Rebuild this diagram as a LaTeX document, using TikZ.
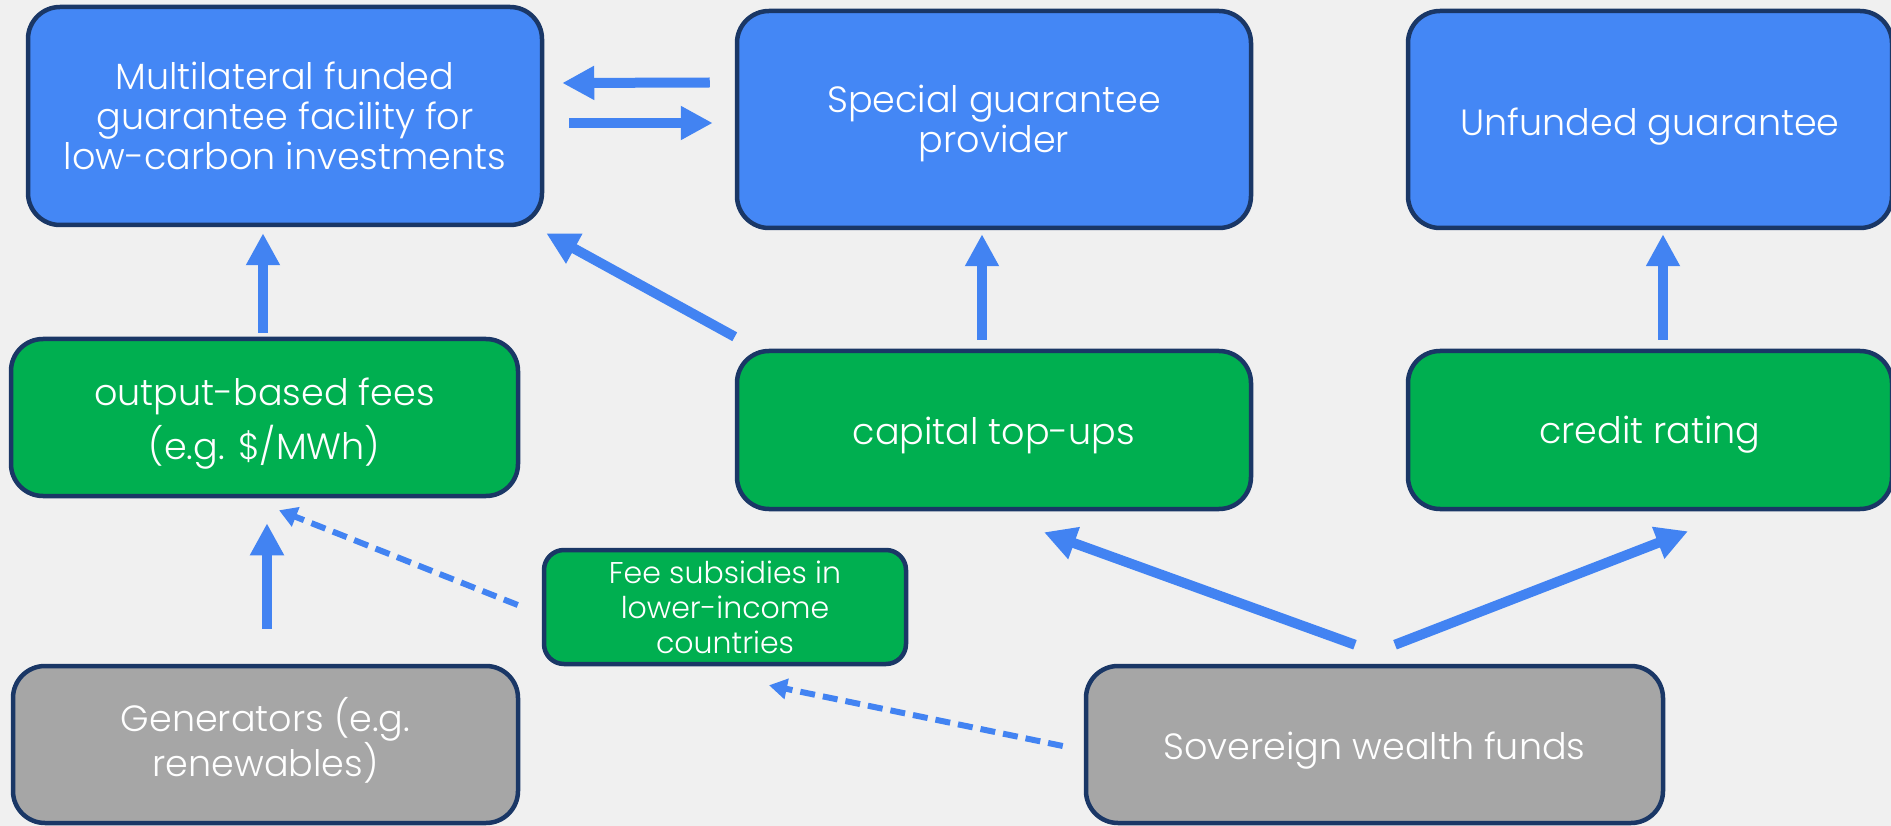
\documentclass[tikz,border=0pt]{standalone}
\usepackage{fontspec}
\IfFontExistsTF{Poppins Light}{\setmainfont{Poppins Light}}{\setmainfont{Poppins}}
\usetikzlibrary{arrows.meta,calc}

\definecolor{bgcol}{RGB}{240,240,240}
\definecolor{edgecol}{RGB}{26,55,102}
\definecolor{bluebox}{RGB}{68,135,245}
\definecolor{greenbox}{RGB}{0,175,80}
\definecolor{greybox}{RGB}{166,166,166}
\definecolor{arrowcol}{RGB}{66,131,242}

\tikzset{
  box/.style={draw=edgecol, line width=4.5pt, rounded corners=32pt, inner sep=0pt},
  bluenode/.style={box, fill=bluebox},
  greennode/.style={box, fill=greenbox},
  greynode/.style={box, fill=greybox},
  boxtext/.style={text=white, align=center, inner sep=0pt,
    font=\fontsize{36.5}{40}\selectfont},
  flow/.style={draw=arrowcol, line width=10pt,
    -{Triangle[length=32pt,width=32pt]}},
  subsidy/.style={draw=arrowcol, line width=6pt, dash pattern=on 15pt off 8pt,
    -{Triangle[length=18pt,width=20pt]}},
}

\begin{document}
\begin{tikzpicture}[x=1pt,y=-1pt]
  \fill[bgcol] (0,0) rectangle (1891,826);
  \useasboundingbox (0,0) rectangle (1891,826);

  % top row: guarantee providers
  \node[bluenode, minimum width=514pt, minimum height=218pt] (mlf) at (285,116) {};
  \node[bluenode, minimum width=514pt, minimum height=217pt] (sgp) at (994,119.5) {};
  \node[bluenode, minimum width=484pt, minimum height=217pt] (ufg) at (1650,119.5) {};

  % middle row: funding mechanisms
  \node[greennode, minimum width=507pt, minimum height=157pt] (fees) at (264.5,417.5) {};
  \node[greennode, minimum width=514pt, minimum height=158pt] (cap) at (994,430) {};
  \node[greennode, minimum width=484pt, minimum height=158pt] (rate) at (1650,430) {};
  \node[greennode, minimum width=362pt, minimum height=114pt,
        rounded corners=20pt] (sub) at (725,607) {};

  % bottom row: sources
  \node[greynode, minimum width=505pt, minimum height=157pt] (gen) at (265.5,744.5) {};
  \node[greynode, minimum width=577pt, minimum height=157pt] (swf) at (1374.5,744.5) {};

  % box captions
  \node[boxtext] (mlft) at ($(mlf)+(0,0)$)
    {Multilateral funded\\guarantee facility for\\low-carbon investments};
  \node[boxtext] (sgpt) at ($(sgp)+(0,4)$) {Special guarantee\\provider};
  \node[boxtext] (ufgt) at ($(ufg)+(0,7)$) {Unfunded guarantee};
  \node[boxtext, font=\fontsize{36.5}{54}\selectfont] (feest) at ($(fees)+(0,6)$)
    {output-based fees\\(e.g. \$/MWh)};
  \node[boxtext] (capt) at ($(cap)+(0,5)$) {capital top-ups};
  \node[boxtext] (ratet) at ($(rate)+(0,5)$) {credit rating};
  \node[boxtext, font=\fontsize{30}{35}\selectfont] (subt) at ($(sub)+(0,0)$)
    {Fee subsidies in\\lower-income\\countries};
  \node[boxtext] (gent) at ($(gen)+(0,-4)$) {Generators (e.g.\\renewables)};
  \node[boxtext] (swft) at ($(swf)+(0,6)$) {Sovereign wealth funds};

  % exchanges between the two guarantee bodies
  \draw[flow] ($(sgp.west)+(-25,-37)$) -- ($(mlf.east)+(18,-33)$);
  \draw[flow] ($(mlf.east)+(25,7)$) -- ($(sgp.west)+(-22,3.5)$);

  % upward flows
  \draw[flow] ($(fees.north)+(-1.5,-4)$) -- ($(mlf.south)+(-22,6)$);
  \draw[flow] ($(cap.north west)+(0,-12)$) -- ($(mlf.south east)+(2,6)$);
  \draw[flow] ($(cap.north)+(-12,-9)$) -- ($(sgp.south)+(-12,4)$);
  \draw[flow] ($(rate.north)+(13,-9)$) -- ($(ufg.south)+(13,4)$);
  \draw[flow] ($(gen.north)+(1.5,-35)$) -- ($(fees.south)+(2.5,25)$);
  \draw[flow] ($(swf.north)+(-19.5,-19)$) -- ($(cap.south)+(50,21)$);
  \draw[flow] ($(swf.north)+(20.5,-19)$) -- ($(rate.south)+(38,20)$);

  % subsidy flows
  \draw[subsidy] ($(sub.west)+(-24,-2)$) -- ($(fees.south)+(14.5,12)$);
  \draw[subsidy] ($(swf.west)+(-21,1.5)$) -- ($(sub.south)+(44,19)$);
\end{tikzpicture}
\end{document}
